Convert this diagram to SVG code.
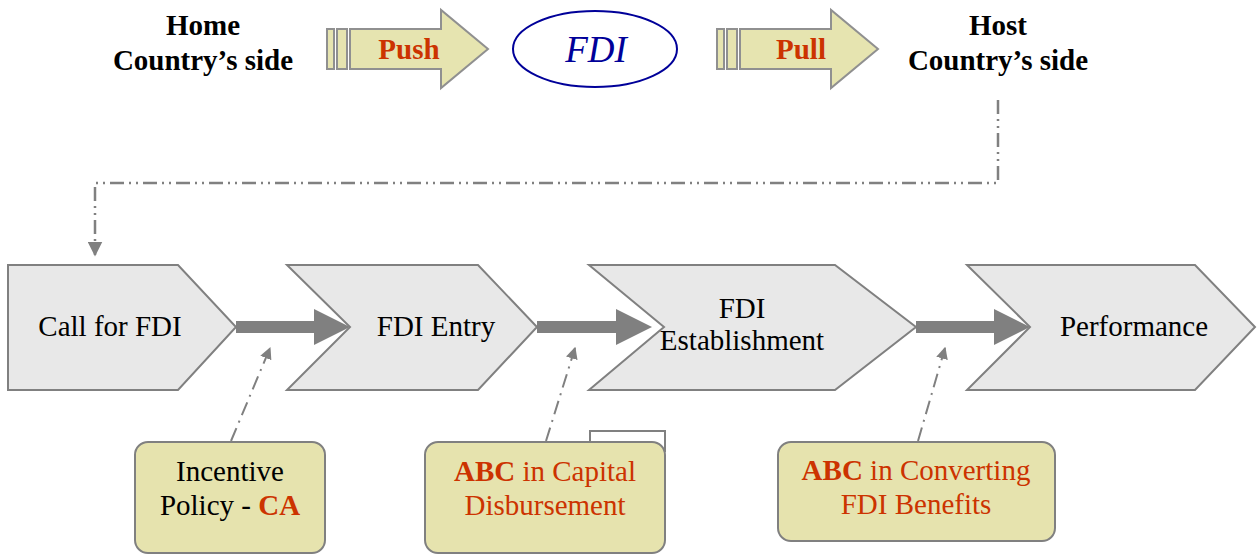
<svg xmlns="http://www.w3.org/2000/svg" width="1257" height="556" viewBox="0 0 1257 556" font-family="'Liberation Serif', 'Times New Roman', serif">
<style>
text{font-family:"Liberation Serif","Times New Roman",serif;font-size:29px;fill:#000000;text-anchor:middle}
.b{font-weight:bold}
.r{fill:#CC3300}
.chev{fill:#E8E8E8;stroke:#808080;stroke-width:2}
.call{fill:#E6E3AE;stroke:#808080;stroke-width:2}
.big{fill:#808080}
.dd{fill:none;stroke:#808080;stroke-width:2.5;stroke-dasharray:14 5 2 5 2 5}
.da{fill:none;stroke:#808080;stroke-width:2;stroke-dasharray:14 6 2 6}
.ya{fill:#E6E4B0;stroke:#909090;stroke-width:2}
</style>
<defs>
<marker id="ah" viewBox="0 0 10 10" refX="9" refY="5" markerWidth="6" markerHeight="6" orient="auto" markerUnits="strokeWidth">
<path d="M0,0 L10,5 L0,10 Z" fill="#808080"/>
</marker>
</defs>
<rect width="1257" height="556" fill="#fff"/>

<g id="home">
<text class="b" x="203" y="35">Home</text>
<text class="b" x="203" y="70">Country’s side</text>
</g>
<g id="push">
<rect class="ya" x="327" y="29" width="7" height="40"/>
<rect class="ya" x="337" y="29" width="10" height="40"/>
<path class="ya" d="M350,29 H441 V10 L488,49 L441,88 V69 H350 Z"/>
<text class="b r" x="409" y="59">Push</text>
</g>
<g id="fdi">
<ellipse cx="595" cy="49" rx="82" ry="38" fill="#fff" stroke="#000099" stroke-width="2"/>
<text x="596" y="62" style="font-style:italic;font-size:37px;fill:#000099">FDI</text>
</g>
<g id="pull">
<rect class="ya" x="717" y="29" width="7" height="40"/>
<rect class="ya" x="727" y="29" width="10" height="40"/>
<path class="ya" d="M740,29 H831 V10 L878,49 L831,88 V69 H740 Z"/>
<text class="b r" x="801" y="59">Pull</text>
</g>
<g id="host">
<text class="b" x="998" y="35">Host</text>
<text class="b" x="998" y="70">Country’s side</text>
</g>

<g id="call-for-fdi">
<path class="chev" d="M8,265 H178 L236,327 L178,390 H8 Z"/>
<text x="110" y="336" font-family="Liberation Serif, serif">Call for FDI</text>
</g>
<g id="fdi-entry">
<path class="chev" d="M287,265 H478 L537,327 L478,390 H287 L350,327 Z"/>
<text x="436" y="336" font-family="Liberation Serif, serif">FDI Entry</text>
</g>
<g id="fdi-establishment">
<path class="chev" d="M589,265 H835 L916,327 L835,390 H589 L664,327 Z"/>
<text x="742" y="318" font-family="Liberation Serif, serif">FDI</text>
<text x="742" y="350" font-family="Liberation Serif, serif">Establishment</text>
</g>
<g id="performance">
<path class="chev" d="M967,265 H1195 L1255,327 L1195,390 H967 L1030,327 Z"/>
<text x="1134" y="336" font-family="Liberation Serif, serif">Performance</text>
</g>

<g id="incentive">
<rect class="call" x="135" y="442" width="190" height="111" rx="13"/>
<text x="230" y="481">Incentive</text>
<text x="230" y="515">Policy - <tspan class="b r">CA</tspan></text>
</g>
<g id="abc-capital">
<rect x="590" y="431" width="75" height="20" fill="none" stroke="#808080" stroke-width="2"/>
<rect class="call" x="425" y="442" width="240" height="111" rx="13"/>
<text class="r" x="545" y="481"><tspan class="b">ABC</tspan> in Capital</text>
<text class="r" x="545" y="515">Disbursement</text>
</g>
<g id="abc-converting">
<rect class="call" x="778" y="442" width="277" height="99" rx="13"/>
<text class="r" x="916" y="480"><tspan class="b">ABC</tspan> in Converting</text>
<text class="r" x="916" y="514">FDI Benefits</text>
</g>

<g id="connectors">
<path class="big" d="M236,321 H314 V309 L350,327 L314,345 V333 H236 Z"/>
<path class="big" d="M537,321 H616 V309 L652,327 L616,345 V333 H537 Z"/>
<path class="big" d="M916,321 H994 V309 L1030,327 L994,345 V333 H916 Z"/>
<path class="dd" d="M998,100 V183 H95 V255" marker-end="url(#ah)"/>
<path class="da" d="M231,441 L270,348" marker-end="url(#ah)"/>
<path class="da" d="M546,441 L575,348" marker-end="url(#ah)"/>
<path class="da" d="M918,441 L945,348" marker-end="url(#ah)"/>
</g>
</svg>
